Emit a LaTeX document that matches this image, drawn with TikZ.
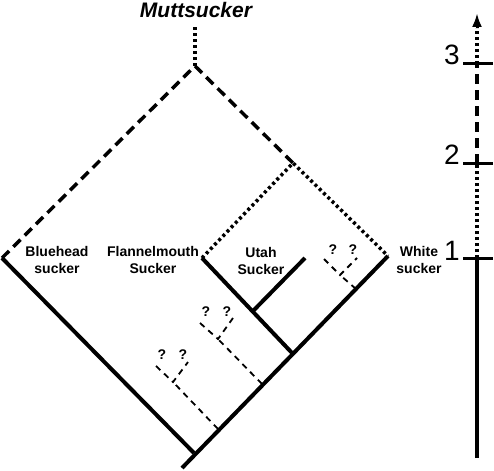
\documentclass[tikz,border=0pt]{standalone}
\usepackage{fontspec}
\setmainfont{Liberation Sans}
\usetikzlibrary{arrows.meta}
\begin{document}
\begin{tikzpicture}[x=1pt,y=-1pt,
  solidline/.style={line width=4pt},
  dashline/.style={line width=3.5pt, dash pattern=on 10pt off 6pt},
  dotline/.style={line width=3.5pt, dash pattern=on 3pt off 3pt},
  thindash/.style={line width=1.8pt, dash pattern=on 6pt off 5pt},
  lbl/.style={font=\fontsize{14}{16.5}\selectfont\bfseries, align=center, inner sep=0pt},
  qm/.style={font=\fontsize{14}{16}\selectfont\bfseries, inner sep=0pt},
  num/.style={font=\fontsize{28}{28}\selectfont, inner sep=0pt, anchor=base east},
  axtick/.style={line width=3pt}
]
\useasboundingbox (0,0) rectangle (494,470);
% tree points
\coordinate (root) at (182,468);
\coordinate (J1) at (194,453);
\coordinate (blue) at (2,258);
\coordinate (white) at (388,256);
\coordinate (J3) at (293,354);
\coordinate (flan) at (202,258);
\coordinate (J2) at (253,311);
\coordinate (utah) at (305,258);
\coordinate (apex) at (195,66);
\coordinate (mid) at (293,163);
\coordinate (top) at (195,25);
% solid tree
\draw[solidline] (root) -- (white);
\draw[solidline] (blue) -- (J1);
\draw[solidline] (flan) -- (J3);
\draw[solidline] (J2) -- (utah);
% dashed and dotted ancestry
\draw[dashline] (blue) -- (apex) -- (mid);
\draw[dotline] (flan) -- (mid) -- (white);
\draw[dotline] (apex) -- (top);
% small question trees
\coordinate (rb) at (356,289); \coordinate (rj) at (340,275);
\coordinate (rl) at (324,259); \coordinate (rr) at (357,258);
\draw[thindash] (rb) -- (rj); \draw[thindash] (rl) -- (rj) -- (rr);
\node[qm] (q1) at (333,250) {?}; \node[qm] (q2) at (353,250) {?};
\coordinate (mb) at (262,384); \coordinate (mj) at (218,339);
\coordinate (ml) at (200,323); \coordinate (mr) at (233,318);
\draw[thindash] (mb) -- (mj); \draw[thindash] (ml) -- (mj) -- (mr);
\node[qm] (q3) at (206,312) {?}; \node[qm] (q4) at (227,312) {?};
\coordinate (lb) at (218,429); \coordinate (lj) at (173,382);
\coordinate (ll) at (156,366); \coordinate (lr) at (188,362);
\draw[thindash] (lb) -- (lj); \draw[thindash] (ll) -- (lj) -- (lr);
\node[qm] (q5) at (162,355) {?}; \node[qm] (q6) at (183,355) {?};
% labels
\node[font=\fontsize{21}{23}\selectfont\bfseries\itshape, inner sep=0pt] (mutt) at (196,10) {Muttsucker};
\node[lbl] (lblue) at (57,260) {Bluehead\\sucker};
\node[lbl] (lflan) at (153,260) {Flannelmouth\\Sucker};
\node[lbl] (lutah) at (261,261) {Utah\\Sucker};
\node[lbl] (lwhite) at (419,260) {White\\sucker};
% scale axis
\coordinate (a0) at (477,458);
\coordinate (a1) at (477,258);
\coordinate (a2) at (477,164);
\coordinate (a3) at (477,64);
\coordinate (a4) at (477,28);
\coordinate (atip) at (477,13);
\draw[solidline] (a0) -- (a1);
\draw[dotline] (a1) -- (a2);
\draw[dashline] (a2) -- (a3);
\draw[dotline] (a3) -- (a4);
\draw[line width=3pt, -{Latex[length=14pt,width=10pt]}] (a4) -- (atip);
\draw[axtick] (463,258) -- (493,258);
\draw[axtick] (463,164) -- (493,164);
\draw[axtick] (463,64) -- (493,64);
\node[num] (n1) at (460,260) {1};
\node[num] (n2) at (460,165) {2};
\node[num] (n3) at (460,65) {3};
\end{tikzpicture}
\end{document}
